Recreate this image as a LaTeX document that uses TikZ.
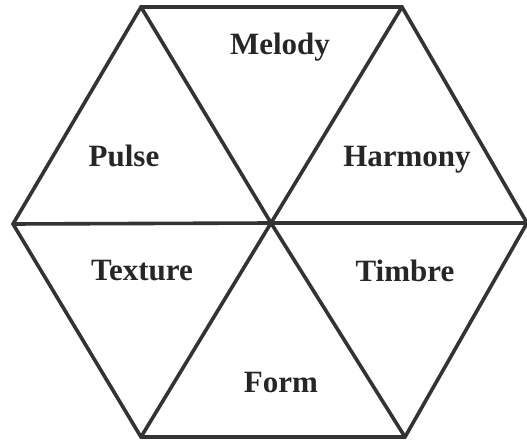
\documentclass[tikz,border=0pt]{standalone}
\usepackage{fontspec}
\setmainfont{Liberation Serif}
\usetikzlibrary{positioning}

\begin{document}
\begin{tikzpicture}[x=1pt, y=-1pt,
  edge/.style={draw=black!80, line width=3.6pt, line join=miter},
  part/.style={font=\fontsize{31}{31}\selectfont\bfseries, text=black!85, anchor=base, inner sep=0pt},
]
\useasboundingbox (0,0) rectangle (527,443);

%--- corners of the hexagon ---
\coordinate (tl) at (141,7);
\coordinate (tr) at (402,7);
\coordinate (r)  at (527,223);
\coordinate (br) at (405,437);
\coordinate (bl) at (141,437);
\coordinate (l)  at (13,224);
\coordinate (c)  at (271,223);

%--- outline and spokes ---
\draw[edge] (tl) -- (tr) -- (r) -- (br) -- (bl) -- (l) -- cycle;
\draw[edge] (tl) -- (c) -- (br);
\draw[edge] (tr) -- (c) -- (bl);
\draw[edge] (l) -- (c) -- (r);

%--- labels ---
\node[part] (melody)  at (280,55)  {Melody};
\node[part] (pulse)   at (124,167) {Pulse};
\node[part] (harmony) at (407,167) {Harmony};
\node[part] (texture) at (142,281) {Texture};
\node[part] (timbre)  at (405,282) {Timbre};
\node[part] (form)    at (281,392) {Form};

\end{tikzpicture}
\end{document}
